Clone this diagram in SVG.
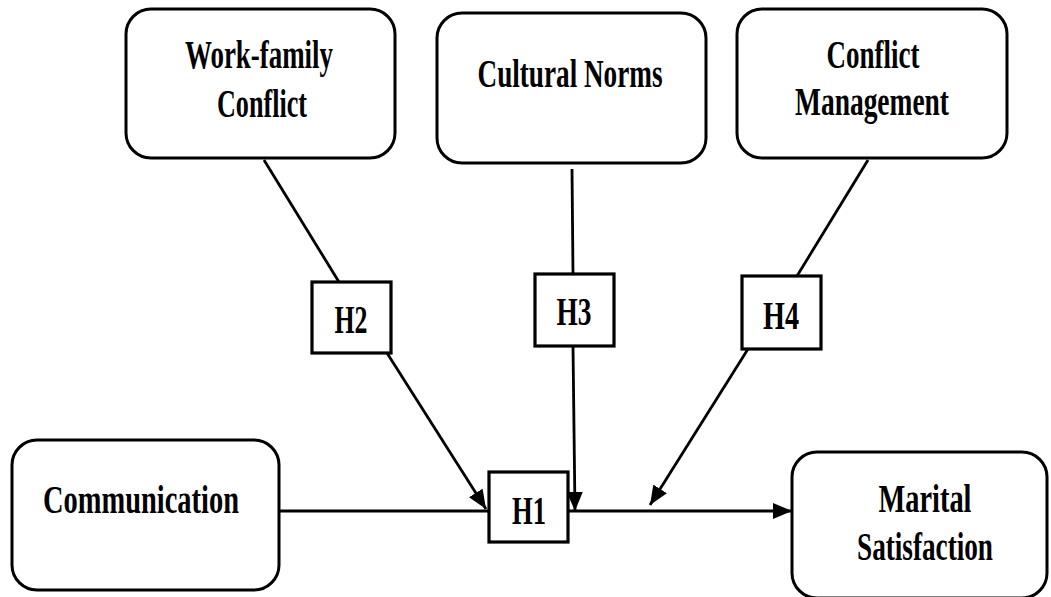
<svg xmlns="http://www.w3.org/2000/svg" width="1051" height="597" viewBox="0 0 1051 597">
<defs>
<style>
.box{fill:#fff;stroke:#000;stroke-width:3}
.hbox{fill:#fff;stroke:#000;stroke-width:3.2}
.t{font-family:"Liberation Serif","Times New Roman",serif;font-weight:bold;font-size:39px;fill:#000;text-anchor:middle}
.ln{stroke:#000;stroke-width:2.8;fill:none}
</style>
<marker id="ah" markerUnits="userSpaceOnUse" markerWidth="20" markerHeight="16" refX="19" refY="8" orient="auto">
<path d="M0,0 L19,8 L0,16 z" fill="#000"/>
</marker>
</defs>
<rect width="1051" height="597" fill="#fff"/>
<g id="connectors">
<line class="ln" x1="264" y1="160" x2="339" y2="282"/>
<line class="ln" x1="387" y1="353" x2="486" y2="509" marker-end="url(#ah)"/>
<line class="ln" x1="572" y1="169" x2="573" y2="274"/>
<line class="ln" x1="573" y1="346" x2="575" y2="511" marker-end="url(#ah)"/>
<line class="ln" x1="868" y1="160" x2="797" y2="276"/>
<line class="ln" x1="748" y1="349" x2="650" y2="505" marker-end="url(#ah)"/>
<line class="ln" x1="279" y1="511" x2="489" y2="511"/>
<line class="ln" x1="568" y1="511" x2="792" y2="511" marker-end="url(#ah)"/>
</g>
<g id="wfc">
<rect class="box" x="126" y="9" width="269" height="149" rx="25"/>
<text class="t" x="259" y="68" textLength="148" lengthAdjust="spacingAndGlyphs">Work-family</text>
<text class="t" x="262" y="117" textLength="90" lengthAdjust="spacingAndGlyphs">Conflict</text>
</g>
<g id="cn">
<rect class="box" x="437" y="13" width="269" height="150" rx="25"/>
<text class="t" x="570" y="87" textLength="185" lengthAdjust="spacingAndGlyphs">Cultural Norms</text>
</g>
<g id="cm">
<rect class="box" x="737" y="9" width="270" height="149" rx="25"/>
<text class="t" x="873" y="68" textLength="93" lengthAdjust="spacingAndGlyphs">Conflict</text>
<text class="t" x="872" y="115" textLength="154" lengthAdjust="spacingAndGlyphs">Management</text>
</g>
<g id="comm">
<rect class="box" x="12" y="440" width="267" height="150" rx="25"/>
<text class="t" x="141" y="513" textLength="196" lengthAdjust="spacingAndGlyphs">Communication</text>
</g>
<g id="ms">
<rect class="box" x="792" y="452" width="255" height="146" rx="25"/>
<text class="t" x="925" y="512" textLength="93" lengthAdjust="spacingAndGlyphs">Marital</text>
<text class="t" x="925" y="560" textLength="136" lengthAdjust="spacingAndGlyphs">Satisfaction</text>
</g>
<g id="h2">
<rect class="hbox" x="312" y="282" width="79" height="71"/>
<text class="t" x="351" y="333" textLength="33" lengthAdjust="spacingAndGlyphs">H2</text>
</g>
<g id="h3">
<rect class="hbox" x="535" y="274" width="79" height="72"/>
<text class="t" x="574" y="325" textLength="35" lengthAdjust="spacingAndGlyphs">H3</text>
</g>
<g id="h4">
<rect class="hbox" x="742" y="276" width="79" height="73"/>
<text class="t" x="781" y="329" textLength="36" lengthAdjust="spacingAndGlyphs">H4</text>
</g>
<g id="h1">
<rect class="hbox" x="489" y="472" width="79" height="70"/>
<text class="t" x="529" y="524" textLength="34" lengthAdjust="spacingAndGlyphs">H1</text>
</g>
</svg>
